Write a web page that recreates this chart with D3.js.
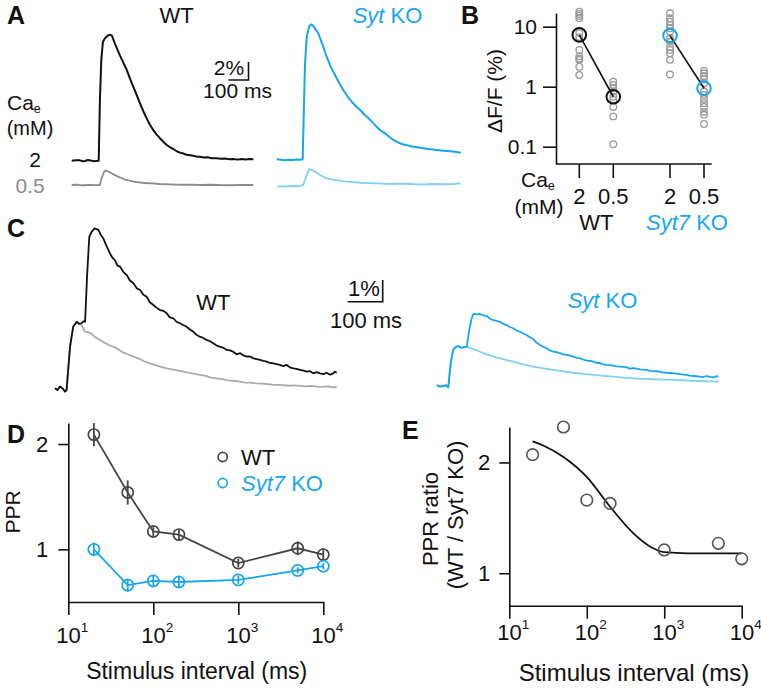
<!DOCTYPE html>
<html><head><meta charset="utf-8">
<script src="https://cdn.jsdelivr.net/npm/d3@7"></script>
<style>body{margin:0;background:#fff}svg text{font-family:"Liberation Sans",Arial,Helvetica,sans-serif}</style>
</head><body><svg id="c" width="761" height="691"></svg>
<script>
// ---------------- DATA ----------------
// Panel D / E
const intervals = [20, 50, 100, 200, 1000, 5000, 10000];
const pprWT    = [2.09, 1.54, 1.17, 1.14, 0.87, 1.01, 0.95];
const pprWTerr = [0.11, 0.115, 0.045, 0.05, 0.04, 0.065, 0.06];
const pprKO    = [1.00, 0.66, 0.70, 0.69, 0.71, 0.80, 0.84];
const pprKOerr = [0.065, 0.063, 0.05, 0.05, 0.04, 0.03, 0.03];
const pprRatio = [2.07, 2.32, 1.66, 1.63, 1.21, 1.27, 1.13];
const fitT = [20, 30, 50, 100, 200, 400, 700, 1000, 2000, 10000];
const fitV = [2.19, 2.14, 2.05, 1.87, 1.60, 1.36, 1.23, 1.19, 1.18, 1.18];
const xTicksLog = [10, 100, 1000, 10000];
const yTicksD = [1, 2];
const yTicksE = [1, 2];
// Panel B
const bGroups = ["WT", "Syt7 KO"];
const bConc = ["2", "0.5"];
const bWT2  = [17.8, 16.3, 15.1, 13.8, 7.85, 6.7, 4.1, 3.2, 2.95, 2.8, 2.15, 1.57];
const bWT05 = [1.21, 1.07, 0.94, 0.83, 0.68, 0.60, 0.46, 0.32, 0.11];
const bKO2  = [16.7, 13.8, 12.1, 10.7, 9.4, 8.3, 6.4, 5.6, 4.6, 4.1, 3.6, 2.8, 1.6];
const bKO05 = [1.85, 1.67, 1.51, 1.33, 1.14, 0.83, 0.73, 0.62, 0.53, 0.46, 0.38, 0.34, 0.24];
const bMeanWT = [7.3, 0.68];
const bMeanKO = [7.1, 0.94];
const yTicksB = [0.1, 1, 10];
// Panel A traces: [time ms, dF/F %]
const aWT2 = [[0,0],[20,0.05],[41,0.04],[55,-0.06],[66,-0.03],[81,0.08],[95,0.02],[101,0],[112,-0.05],[121,-0.03],[135,0],[141,6.7],[148,11.2],[156,13.2],[166,13.6],[181,13.9],[191,14.0],[201,13.9],[216,13.0],[241,11.7],[258,10.9],[275,10.1],[292,9.1],[308,8.2],[325,7.3],[341,6.4],[358,5.5],[375,4.7],[391,4.0],[408,3.4],[425,2.9],[441,2.5],[458,2.1],[475,1.75],[491,1.5],[508,1.3],[525,1.05],[541,0.9],[558,0.8],[575,0.65],[591,0.6],[608,0.55],[625,0.45],[641,0.44],[660,0.35],[680,0.38],[700,0.28],[725,0.27],[745,0.22],[765,0.25],[790,0.15],[808,0.18],[830,0.12],[850,0.2],[870,0.14],[890,0.18],[908,0.16]];
const aWT05 = [[0,0],[25,0.03],[50,-0.03],[66,-0.03],[90,0.02],[115,-0.02],[141,0],[150,0.78],[161,1.44],[171,1.6],[181,1.52],[201,1.28],[216,1.1],[231,0.94],[250,0.78],[266,0.61],[286,0.5],[306,0.39],[336,0.3],[366,0.22],[400,0.18],[441,0.11],[490,0.06],[541,0.03],[590,0.05],[641,0],[700,0.03],[750,-0.02],[791,-0.03],[850,0.02],[908,0]];
const aKO2 = [[0,0],[20,-0.05],[41,-0.11],[60,-0.05],[83,-0.08],[100,-0.02],[116,-0.04],[130,0],[133,2.9],[141,10.3],[150,13.6],[163,14.8],[175,15.0],[190,14.6],[208,14.0],[230,12.7],[250,11.4],[270,10.3],[291,9.4],[312,8.5],[333,7.7],[354,7.0],[375,6.4],[396,5.9],[416,5.5],[437,5.0],[458,4.6],[479,4.1],[500,3.6],[520,3.2],[541,2.9],[562,2.5],[583,2.15],[604,1.9],[625,1.7],[645,1.6],[666,1.48],[700,1.35],[725,1.25],[750,1.18],[790,1.05],[833,0.96],[870,0.9],[900,0.8],[920,0.73]];
const aKO05 = [[0,0],[40,0.03],[83,0.08],[110,0.05],[133,0.19],[150,1.3],[163,1.97],[183,1.78],[200,1.55],[216,1.3],[233,1.1],[250,0.93],[275,0.82],[300,0.74],[325,0.62],[350,0.56],[385,0.5],[416,0.44],[460,0.4],[500,0.38],[540,0.32],[583,0.3],[625,0.34],[666,0.3],[710,0.26],[750,0.27],[790,0.3],[833,0.27],[880,0.3],[920,0.38]];
// Panel C traces: [time ms, dF/F %]
const cWT2 = [[0,0.03],[7,-0.05],[14,0.11],[22,0.02],[28.6,-0.12],[33,-0.05],[43,1.95],[52,2.87],[62,3.1],[69,3.0],[76,3.03],[81,3.12],[86,3.1],[92,5.33],[98,7.02],[105,7.25],[113,7.4],[124,7.33],[131,7.1],[138,6.94],[147,6.6],[157,6.25],[164,6.05],[171,5.94],[178,5.7],[186,5.64],[195,5.4],[205,5.25],[214,5.0],[224,4.87],[233,4.65],[243,4.56],[252,4.35],[262,4.25],[271,4.0],[281,3.87],[290,3.75],[300,3.64],[310,3.6],[319,3.49],[328,3.3],[338,3.26],[347,3.1],[357,3.03],[366,2.95],[376,2.87],[385,2.75],[395,2.64],[404,2.5],[414,2.41],[424,2.35],[433,2.26],[443,2.2],[452,2.11],[462,2.0],[471,1.95],[481,1.9],[491,1.8],[500,1.78],[509,1.72],[519,1.6],[529,1.65],[538,1.55],[548,1.49],[557,1.5],[567,1.41],[576,1.38],[586,1.34],[595,1.3],[605,1.26],[614,1.2],[624,1.18],[633,1.15],[643,1.11],[652,1.05],[662,1.11],[671,1.0],[681,0.95],[690,0.93],[700,0.88],[710,0.85],[719,0.8],[729,0.82],[738,0.72],[748,0.78],[757,0.72],[767,0.68],[776,0.75],[786,0.66],[795,0.72],[800,0.8],[805,0.75]];
const cWT05 = [[0,0.03],[7,-0.05],[14,0.11],[22,0.02],[28.6,-0.12],[33,-0.05],[43,1.95],[52,2.87],[62,3.1],[69,3.0],[76,2.95],[86,2.64],[100,2.6],[114,2.4],[129,2.26],[145,2.1],[160,1.98],[176,1.88],[192,1.7],[208,1.6],[224,1.49],[240,1.4],[255,1.28],[271,1.18],[287,1.1],[303,1.02],[319,0.95],[335,0.9],[351,0.85],[367,0.8],[383,0.74],[398,0.7],[414,0.65],[430,0.6],[446,0.52],[462,0.49],[478,0.45],[494,0.4],[509,0.38],[525,0.35],[541,0.3],[557,0.29],[573,0.26],[589,0.25],[605,0.23],[621,0.2],[636,0.19],[652,0.18],[668,0.15],[684,0.17],[700,0.14],[716,0.12],[732,0.14],[748,0.11],[764,0.1],[780,0.12],[795,0.08],[805,0.08]];
const cKO2 = [[0,0.05],[9,-0.03],[19,0],[26,0.04],[33,-0.06],[40,1.05],[47,1.66],[55,1.8],[62,1.84],[69,1.76],[76,1.78],[86,1.81],[93,2.58],[100,3.12],[105,3.32],[114,3.3],[124,3.32],[133,3.25],[143,3.23],[152,3.1],[162,3.04],[171,3.0],[181,2.96],[190,2.86],[200,2.81],[209,2.72],[219,2.66],[228,2.56],[238,2.5],[247,2.42],[257,2.35],[266,2.25],[276,2.15],[285,2.0],[295,1.89],[305,1.8],[314,1.74],[324,1.64],[333,1.58],[343,1.56],[352,1.51],[362,1.46],[371,1.43],[381,1.4],[390,1.35],[400,1.3],[409,1.28],[419,1.22],[429,1.17],[438,1.16],[447,1.12],[457,1.06],[467,1.05],[476,1.0],[486,0.97],[495,0.96],[505,0.94],[514,0.9],[524,0.89],[533,0.88],[543,0.86],[552,0.8],[562,0.82],[571,0.8],[581,0.77],[590,0.75],[600,0.74],[609,0.7],[619,0.69],[628,0.68],[638,0.66],[647,0.62],[657,0.61],[666,0.6],[676,0.59],[685,0.57],[695,0.55],[705,0.52],[714,0.51],[724,0.48],[733,0.46],[743,0.45],[752,0.43],[762,0.41],[771,0.46],[781,0.42],[790,0.4],[798,0.45],[805,0.43]];
const cKO05 = [[0,0.05],[9,-0.03],[19,0],[26,0.04],[33,-0.06],[40,1.05],[47,1.66],[55,1.8],[62,1.84],[69,1.76],[76,1.78],[86,1.81],[105,1.7],[124,1.58],[143,1.46],[162,1.35],[190,1.24],[219,1.12],[247,1.0],[276,0.89],[305,0.81],[333,0.74],[362,0.67],[390,0.61],[419,0.56],[447,0.51],[476,0.47],[505,0.43],[533,0.39],[562,0.35],[590,0.33],[619,0.31],[647,0.29],[676,0.28],[705,0.26],[733,0.24],[762,0.22],[790,0.21],[805,0.2]];
const scaleBarA = {ms: 100, pct: 2};
const scaleBarC = {ms: 100, pct: 1};

// ---------------- STYLE ----------------
const BLUE = "#16a6ee", LBLUE = "#80d0f6", BLACK = "#111", GREY = "#8c8c8c", LGREY = "#ababab", DGREY = "#454545";
const svg = d3.select("#c");

function txt(x, y, parts, o = {}) {
  const size = o.size || 22;
  const t = svg.append("text").attr("x", x).attr("y", y)
    .attr("font-size", size).attr("fill", o.fill || BLACK)
    .attr("text-anchor", o.anchor || "start")
    .attr("font-weight", o.weight || "normal");
  if (o.rotate) t.attr("transform", `rotate(${o.rotate},${x},${y})`);
  (typeof parts === "string" ? [[parts]] : parts).forEach(p => {
    const s = t.append("tspan").text(p[0]);
    if (p[1] === "i") s.attr("font-style", "italic");
    if (p[1] === "sub") s.attr("font-size", size * 0.6).attr("dy", 3);
    if (p[1] === "sup") s.attr("font-size", size * 0.62).attr("dy", -11);
  });
  return t;
}
function styleAxis(g, size) {
  g.select(".domain").attr("stroke", BLACK).attr("stroke-width", 1.6);
  g.selectAll(".tick line").attr("stroke", BLACK).attr("stroke-width", 1.6);
  g.selectAll(".tick text").attr("font-size", size || 22).attr("fill", BLACK)
    .attr("font-family", '"Liberation Sans",Arial,sans-serif');
}

// ---------------- PANEL LETTERS ----------------
txt(7, 24, "A", {size: 25, weight: "bold"});
txt(461, 24, "B", {size: 25, weight: "bold"});
txt(7, 237, "C", {size: 25, weight: "bold"});
txt(7, 443, "D", {size: 25, weight: "bold"});
txt(402, 439, "E", {size: 25, weight: "bold"});

// ---------------- PANEL A ----------------
const xA = d3.scaleLinear().domain([0, 1000]).range([0, 200]);
const yA = d3.scaleLinear().domain([0, 1]).range([0, -9]);
const lineA = d3.line().x(d => xA(d[0])).y(d => yA(d[1]));
function traceA(data, tx, ty, color, w) {
  svg.append("path").attr("transform", `translate(${tx},${ty})`).attr("d", lineA(data))
    .attr("fill", "none").attr("stroke", color).attr("stroke-width", w).attr("stroke-linejoin", "round");
}
traceA(aWT05, 71.7, 185, GREY, 1.8);
traceA(aWT2, 71.7, 160.7, BLACK, 2);
traceA(aKO05, 276.7, 186.7, LBLUE, 1.8);
traceA(aKO2, 276.7, 159.3, BLUE, 2);
{
  const cx = 248.5, cy = 80;
  svg.append("path").attr("d", `M${cx - (xA(scaleBarA.ms) - xA(0))},${cy}H${cx}V${cy + yA(scaleBarA.pct)}`)
    .attr("fill", "none").attr("stroke", BLACK).attr("stroke-width", 1.6);
  txt(229, 75, `${scaleBarA.pct}%`, {anchor: "middle", size: 21});
  txt(237.5, 98, `${scaleBarA.ms} ms`, {anchor: "middle", size: 21});
}
txt(176.5, 23, "WT", {anchor: "middle"});
txt(387.5, 23, [["Syt", "i"], [" KO"]], {anchor: "middle", fill: BLUE});
txt(7, 110, [["Ca"], ["e", "sub"]], {size: 21});
txt(30, 135, "(mM)", {anchor: "middle", size: 20});
txt(35, 167, "2", {anchor: "middle", size: 21});
txt(30, 193, "0.5", {anchor: "middle", size: 21, fill: GREY});

// ---------------- PANEL B ----------------
const yB = d3.scaleLog().domain([0.0515, 16.9]).range([164, 13]);
const xBg = d3.scalePoint().domain(bGroups).range([596.3, 687]);
const xBc = d3.scalePoint().domain(bConc).range([-17, 17]);
const xB = (g, c) => xBg(g) + xBc(c);
{
  const gy = svg.append("g").attr("transform", "translate(556,0)")
    .call(d3.axisLeft(yB).tickValues(yTicksB).tickFormat(d => d >= 1 ? d3.format("d")(d) : d).tickSize(13).tickSizeOuter(0).tickPadding(6));
  styleAxis(gy, 21);
  const cats = [];
  bGroups.forEach(g => bConc.forEach(c => cats.push([g, c])));
  svg.append("line").attr("x1", 556).attr("x2", 711.7).attr("y1", 164).attr("y2", 164).attr("stroke", BLACK).attr("stroke-width", 1.6);
  cats.forEach(([g, c]) => {
    svg.append("line").attr("x1", xB(g, c)).attr("x2", xB(g, c)).attr("y1", 164).attr("y2", 178).attr("stroke", BLACK).attr("stroke-width", 1.6);
    txt(xB(g, c), 204, c, {anchor: "middle"});
  });
  txt(xBg("WT"), 230, "WT", {anchor: "middle"});
  txt(xBg("Syt7 KO"), 230, [["Syt7", "i"], [" KO"]], {anchor: "middle", fill: BLUE});
  txt(521, 187, [["Ca"], ["e", "sub"]], {size: 21});
  txt(539, 214, "(mM)", {anchor: "middle", size: 21});
  txt(502, 91, "\u0394F/F (%)", {anchor: "middle", rotate: -90, size: 21});

  const indiv = [["WT", "2", bWT2], ["WT", "0.5", bWT05], ["Syt7 KO", "2", bKO2], ["Syt7 KO", "0.5", bKO05]];
  indiv.forEach(([g, c, arr]) => {
    svg.append("g").selectAll("circle").data(arr).join("circle")
      .attr("cx", xB(g, c)).attr("cy", d => yB(d)).attr("r", 3.3)
      .attr("fill", "none").attr("stroke", "#9a9a9a").attr("stroke-width", 1.3);
  });
  const means = [["WT", bMeanWT, BLACK], ["Syt7 KO", bMeanKO, BLUE]];
  means.forEach(([g, m, col]) => {
    svg.append("line").attr("x1", xB(g, "2")).attr("y1", yB(m[0])).attr("x2", xB(g, "0.5")).attr("y2", yB(m[1]))
      .attr("stroke", BLACK).attr("stroke-width", 1.6);
    bConc.forEach((c, i) => svg.append("circle").attr("cx", xB(g, c)).attr("cy", yB(m[i])).attr("r", 6.8)
      .attr("fill", "none").attr("stroke", col).attr("stroke-width", 2));
  });
}

// ---------------- PANEL C ----------------
const xC = d3.scaleLinear().domain([0, 1000]).range([0, 350]);
const yC = d3.scaleLinear().domain([0, 1]).range([0, -21.7]);
const lineC = d3.line().x(d => xC(d[0])).y(d => yC(d[1]));
function traceC(data, tx, ty, color, w) {
  svg.append("path").attr("transform", `translate(${tx},${ty})`).attr("d", lineC(data))
    .attr("fill", "none").attr("stroke", color).attr("stroke-width", w).attr("stroke-linejoin", "round");
}
traceC(cWT05, 55, 389, LGREY, 1.8);
traceC(cWT2, 55, 389, BLACK, 1.8);
traceC(cKO05, 436.7, 386, LBLUE, 1.8);
traceC(cKO2, 436.7, 386, BLUE, 1.8);
{
  const cx = 382.7, cy = 301.7;
  svg.append("path").attr("d", `M${cx - (xC(scaleBarC.ms) - xC(0))},${cy}H${cx}V${cy + yC(scaleBarC.pct)}`)
    .attr("fill", "none").attr("stroke", BLACK).attr("stroke-width", 1.6);
  txt(364, 296, `${scaleBarC.pct}%`, {anchor: "middle"});
  txt(366, 328, `${scaleBarC.ms} ms`, {anchor: "middle"});
}
txt(213.3, 310, "WT", {anchor: "middle"});
txt(602.5, 308, [["Syt", "i"], [" KO"]], {anchor: "middle", fill: BLUE});

// ---------------- LOG X-AXIS HELPER ----------------
function logXAxis(x, y0, labelY) {
  const g = svg.append("g").attr("transform", `translate(0,${y0})`)
    .call(d3.axisBottom(x).tickValues(xTicksLog).tickFormat("").tickSize(13).tickSizeOuter(0));
  styleAxis(g);
  xTicksLog.forEach(v => {
    txt(x(v) + 4, labelY, [["10"], [String(Math.round(Math.log10(v))), "sup"]], {anchor: "middle", size: 22});
  });
}

// ---------------- PANEL D ----------------
const xD = d3.scaleLog().domain([10, 10000]).range([68.3, 323.3]);
const yD = d3.scaleLinear().domain([0.5, 2.2]).range([602, 423]);
{
  const gy = svg.append("g").attr("transform", "translate(68.3,0)")
    .call(d3.axisLeft(yD).tickValues(yTicksD).tickFormat(d3.format("d")).tickSize(10).tickSizeOuter(0).tickPadding(10));
  styleAxis(gy);
  logXAxis(xD, 602, 643);
  txt(196.7, 679, "Stimulus interval (ms)", {anchor: "middle", size: 23});
  txt(20, 512, "PPR", {anchor: "middle", rotate: -90, size: 21});
  const series = [[pprWT, pprWTerr, DGREY], [pprKO, pprKOerr, BLUE]];
  series.forEach(([vals, errs, col]) => {
    const pts = intervals.map((t, i) => [t, vals[i], errs[i]]);
    svg.append("path").attr("d", d3.line().x(d => xD(d[0])).y(d => yD(d[1]))(pts))
      .attr("fill", "none").attr("stroke", col).attr("stroke-width", 1.8);
    svg.append("g").selectAll("line").data(pts).join("line")
      .attr("x1", d => xD(d[0])).attr("x2", d => xD(d[0]))
      .attr("y1", d => yD(d[1] - d[2])).attr("y2", d => yD(d[1] + d[2]))
      .attr("stroke", col).attr("stroke-width", 1.8);
    svg.append("g").selectAll("circle").data(pts).join("circle")
      .attr("cx", d => xD(d[0])).attr("cy", d => yD(d[1])).attr("r", 5.6)
      .attr("fill", "none").attr("stroke", col).attr("stroke-width", 1.7);
  });
  svg.append("circle").attr("cx", 222.7).attr("cy", 457).attr("r", 4.6).attr("fill", "none").attr("stroke", DGREY).attr("stroke-width", 1.7);
  svg.append("circle").attr("cx", 222.7).attr("cy", 483).attr("r", 4.6).attr("fill", "none").attr("stroke", BLUE).attr("stroke-width", 1.7);
  txt(241, 465, "WT", {size: 22});
  txt(241, 491, [["Syt7", "i"], [" KO"]], {size: 22, fill: BLUE});
}

// ---------------- PANEL E ----------------
const xE = d3.scaleLog().domain([10, 10000]).range([509.3, 741.7]);
const yE = d3.scaleLinear().domain([0.707, 2.32]).range([605.7, 427]);
{
  const gy = svg.append("g").attr("transform", "translate(509.3,0)")
    .call(d3.axisLeft(yE).tickValues(yTicksE).tickFormat(d3.format("d")).tickSize(10).tickSizeOuter(0).tickPadding(9));
  styleAxis(gy);
  logXAxis(xE, 605.7, 640);
  txt(634, 681, "Stimulus interval (ms)", {anchor: "middle", size: 24});
  txt(438, 519, "PPR ratio", {anchor: "middle", rotate: -90, size: 22});
  txt(463, 515, [["(WT / Syt7 KO)"]], {anchor: "middle", rotate: -90, size: 22});
  const fit = fitT.map((t, i) => [t, fitV[i]]);
  svg.append("path").attr("d", d3.line().curve(d3.curveMonotoneX).x(d => xE(d[0])).y(d => yE(d[1]))(fit))
    .attr("fill", "none").attr("stroke", BLACK).attr("stroke-width", 1.8);
  svg.append("g").selectAll("circle").data(intervals.map((t, i) => [t, pprRatio[i]])).join("circle")
    .attr("cx", d => xE(d[0])).attr("cy", d => yE(d[1])).attr("r", 5.8)
    .attr("fill", "none").attr("stroke", "#555").attr("stroke-width", 1.6);
}
</script></body></html>
